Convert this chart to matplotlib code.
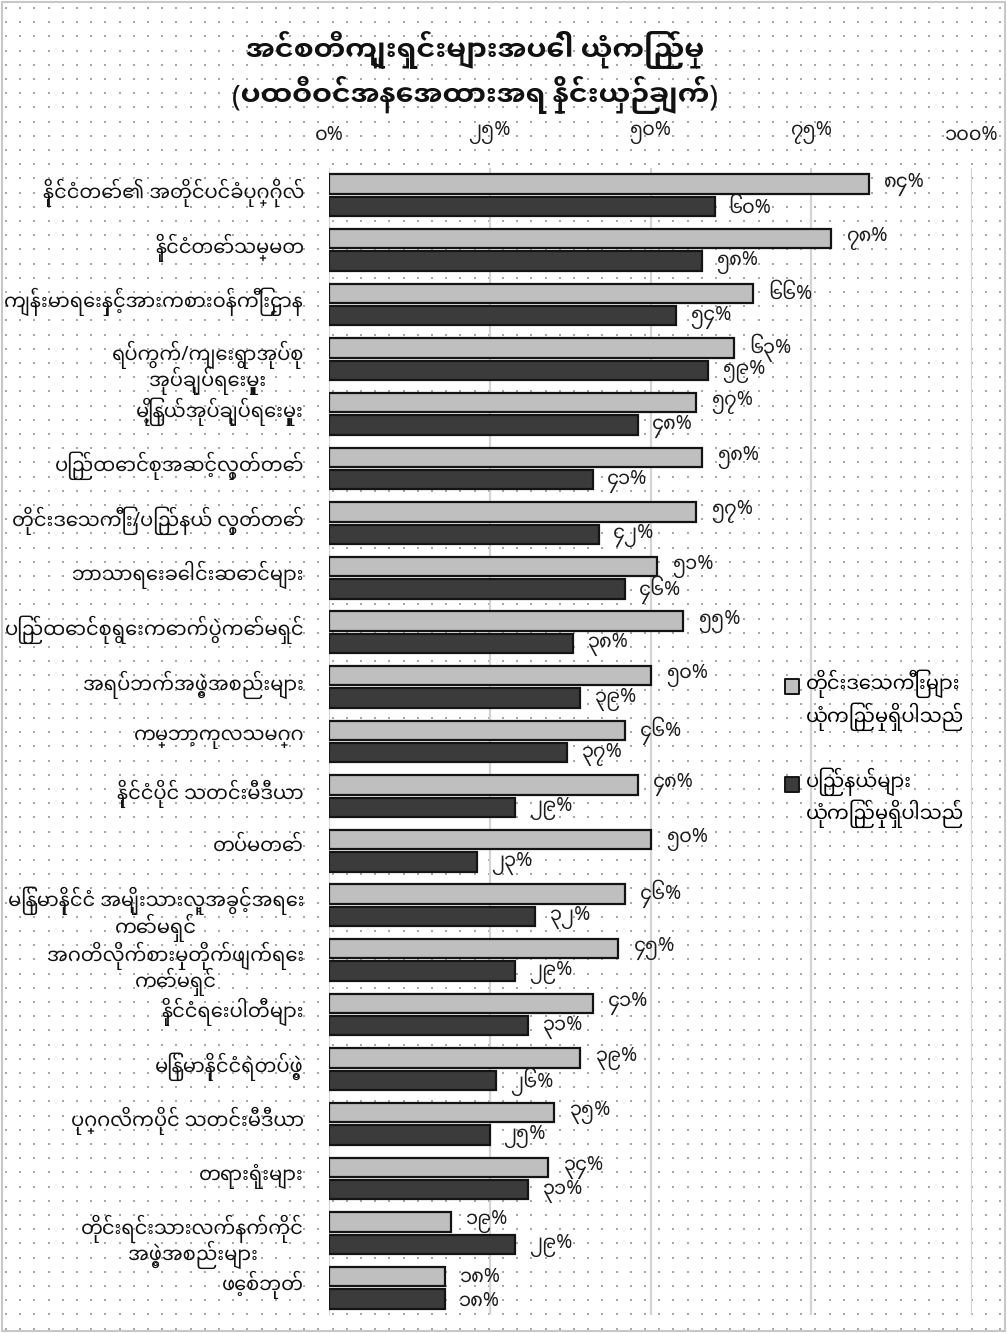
import matplotlib
matplotlib.use("Agg")
import matplotlib.pyplot as plt
from matplotlib.lines import Line2D
from matplotlib.patches import Rectangle
from matplotlib.path import Path
from matplotlib.transforms import ScaledTranslation
import numpy as np

# ---------------- data ----------------
title_line1 = "အင်စတီကျူးရှင်းများအပေါ် ယုံကြည်မှု"
title_line2 = "(ပထဝီဝင်အနေအထားအရ နှိုင်းယှဉ်ချက်)"

categories = [
    "နိုင်ငံတော်၏ အတိုင်ပင်ခံပုဂ္ဂိုလ်",
    "နိုင်ငံတော်သမ္မတ",
    "ကျန်းမာရေးနှင့်အားကစားဝန်ကြီးဌာန",
    "ရပ်ကွက်/ကျေးရွာအုပ်စု\nအုပ်ချုပ်ရေးမှူး",
    "မြို့နယ်အုပ်ချုပ်ရေးမှူး",
    "ပြည်ထောင်စုအဆင့်လွှတ်တော်",
    "တိုင်းဒေသကြီး/ပြည်နယ် လွှတ်တော်",
    "ဘာသာရေးခေါင်းဆောင်များ",
    "ပြည်ထောင်စုရွေးကောက်ပွဲကော်မရှင်",
    "အရပ်ဘက်အဖွဲ့အစည်းများ",
    "ကမ္ဘာ့ကုလသမဂ္ဂ",
    "နိုင်ငံပိုင် သတင်းမီဒီယာ",
    "တပ်မတော်",
    "မြန်မာနိုင်ငံ အမျိုးသားလူ့အခွင့်အရေး\nကော်မရှင်",
    "အဂတိလိုက်စားမှုတိုက်ဖျက်ရေး\nကော်မရှင်",
    "နိုင်ငံရေးပါတီများ",
    "မြန်မာနိုင်ငံရဲတပ်ဖွဲ့",
    "ပုဂ္ဂလိကပိုင် သတင်းမီဒီယာ",
    "တရားရုံးများ",
    "တိုင်းရင်းသားလက်နက်ကိုင်\nအဖွဲ့အစည်းများ",
    "ဖေ့စ်ဘုတ်",
]

regions_trust = [84, 78, 66, 63, 57, 58, 57, 51, 55, 50, 46, 48, 50, 46, 45, 41, 39, 35, 34, 19, 18]
states_trust = [60, 58, 54, 59, 48, 41, 42, 46, 38, 39, 37, 29, 23, 32, 29, 31, 26, 25, 31, 29, 18]

series_names = [
    "တိုင်းဒေသကြီးများ\nယုံကြည်မှုရှိပါသည်",
    "ပြည်နယ်များ\nယုံကြည်မှုရှိပါသည်",
]

x_ticks = [0, 25, 50, 75, 100]

# ---------------- style ----------------
MM_DIGITS = str.maketrans("0123456789", "၀၁၂၃၄၅၆၇၈၉")


def mm(n):
    return str(n).translate(MM_DIGITS) + "%"


FONT = ["Noto Sans Myanmar", "Noto Sans Myanmar UI", "Padauk", "DejaVu Sans"]
TITLE_FONT = ["Noto Sans Myanmar UI", "Noto Sans Myanmar", "DejaVu Sans"]
plt.rcParams["font.family"] = FONT

LIGHT = "#bfbfbf"
DARK = "#3b3b3b"
EDGE = "#141414"
TXT = "#1c1c1c"

W, H = 1007, 1333
fig = plt.figure(figsize=(W / 100, H / 100), dpi=100)

# background: dotted paper + light border
bg = fig.add_axes([0, 0, 1, 1], zorder=0)
bg.set_xlim(0, W)
bg.set_ylim(H, 0)
bg.axis("off")
gx, gy = np.meshgrid(np.arange(6, W, 14.2), np.arange(8, H, 14.2))
bg.scatter(gx.ravel(), gy.ravel(), s=1.3, c="#a8a8a8", marker="s", linewidths=0)
bg.add_patch(Rectangle((2, 2), W - 4, H - 4, fill=False, ec="#c8c8c8", lw=1.5))

# main axes
left_px, right_px, top_px, bot_px = 329, 972, 168, 1315
ax = fig.add_axes([left_px / W, 1 - bot_px / H, (right_px - left_px) / W, (bot_px - top_px) / H],
                  zorder=2)
ax.set_facecolor("none")

n = len(categories)
y = np.arange(n)
h = 0.355
off = 0.205

ax.barh(y - off, regions_trust, height=h, color=LIGHT, edgecolor=EDGE, linewidth=1.6,
        label=series_names[0], zorder=3)
ax.barh(y + off, states_trust, height=h, color=DARK, edgecolor=EDGE, linewidth=1.6,
        label=series_names[1], zorder=3)

for yi, v in zip(y, regions_trust):
    ax.annotate(mm(v), (v, yi - off), xytext=(11, 0), textcoords="offset points",
                va="center", ha="left", fontsize=14, color=TXT)
for yi, v in zip(y, states_trust):
    ax.annotate(mm(v), (v, yi + off), xytext=(10, -1), textcoords="offset points",
                va="center", ha="left", fontsize=14, color=TXT)

ax.set_xlim(0, 100)
ax.set_ylim(n - 0.5, -0.5)
ax.set_xticks(x_ticks)
ax.set_xticklabels([mm(t) for t in x_ticks], fontsize=14, color=TXT)
ax.xaxis.tick_top()
ax.tick_params(axis="x", length=0, pad=17)
ax.set_yticks(y)
ax.set_yticklabels(categories, fontsize=14, color="#111111", linespacing=0.92,
                   multialignment="center")
ax.tick_params(axis="y", length=0, pad=18)
# nudge labels: single-line ones sit a little above the row centre, wrapped ones a little below
for lab in ax.get_yticklabels():
    dy = -5 if "\n" in lab.get_text() else 7
    lab.set_transform(lab.get_transform() + ScaledTranslation(0, dy / 100, fig.dpi_scale_trans))
ax.grid(axis="x", color="#d4d4d4", linewidth=1.6, zorder=1)
ax.set_axisbelow(True)
for s in ax.spines.values():
    s.set_visible(False)

# title
fig.text(475 / W, 1 - 50 / H, title_line1, ha="center", va="center", fontsize=20.5,
         fontweight="bold", color="#111111", family=TITLE_FONT)
fig.text(475 / W, 1 - 95 / H, title_line2, ha="center", va="center", fontsize=20.5,
         fontweight="bold", color="#111111", family=TITLE_FONT)

# legend: square marker aligned with the first text line
sq = Path([(-0.5, 0.5), (0.5, 0.5), (0.5, 1.5), (-0.5, 1.5), (-0.5, 0.5)],
          [Path.MOVETO, Path.LINETO, Path.LINETO, Path.LINETO, Path.CLOSEPOLY])
handles = [
    Line2D([], [], marker=sq, linestyle="none", markersize=31, markerfacecolor=LIGHT,
           markeredgecolor=EDGE, markeredgewidth=1.4),
    Line2D([], [], marker=sq, linestyle="none", markersize=31, markerfacecolor=DARK,
           markeredgecolor=EDGE, markeredgewidth=1.4),
]
fig.legend(handles, series_names, loc="upper left", bbox_to_anchor=(776 / W, 1 - 662 / H),
           frameon=False, fontsize=14, handlelength=0.8, handletextpad=0.35,
           labelspacing=1.9, borderaxespad=0)

fig.savefig("out.png", dpi=100)
